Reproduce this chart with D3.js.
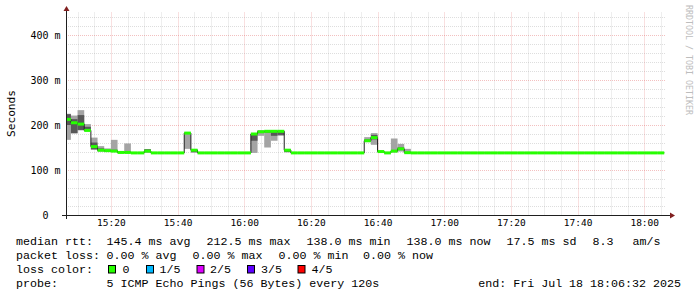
<!DOCTYPE html>
<html>
<head>
<meta charset="utf-8">
<script src="https://cdn.jsdelivr.net/npm/d3@7/dist/d3.min.js"></script>
<style>
  html, body { margin: 0; padding: 0; background: #ffffff; }
  svg { display: block; }
  text { white-space: pre; }
</style>
</head>
<body>
<svg id="chart" width="697" height="297"></svg>
<script>
// ---- Time frame (RRD step = 120 s) ----
const startTime = new Date(2025, 6, 18, 15, 6, 32);
const endTime   = new Date(2025, 6, 18, 18, 6, 32);
const firstStepEnd = new Date(2025, 6, 18, 15, 8, 0);
const stepSeconds = 120;

// ---- Sorted ping RTTs per step (ms): p1 = fastest ... p5 = slowest ----
const ping1 = [
  167, 181, 188, 186, 145, 141, 140, 140, 138, 138,
  138, 138, 138, 138, 138, 138, 138, 138, 147, 138,
  138, 138, 138, 138, 138, 138, 138, 138, 138, 176,
  150, 165, 176, 139, 138, 138, 138, 138, 138, 138,
  138, 138, 138, 138, 138, 162, 156, 139, 138, 139,
  141, 138, 138, 138, 138, 138, 138, 138, 138, 138,
  138, 138, 138, 138, 138, 138, 138, 138, 138, 138,
  138, 138, 138, 138, 138, 138, 138, 138, 138, 138,
  138, 138, 138, 138, 138, 138, 138, 138, 138, 138
];
const ping2 = [
  200, 182, 189, 187, 146, 142, 141, 141, 138, 138,
  138, 138, 140, 138, 138, 138, 138, 138, 180, 140,
  138, 138, 138, 138, 138, 138, 138, 138, 165, 183,
  183, 176, 178, 140, 138, 138, 138, 138, 138, 138,
  138, 138, 138, 138, 138, 163, 168, 140, 138, 141,
  145, 138, 138, 138, 138, 138, 138, 138, 138, 138,
  138, 138, 138, 138, 138, 138, 138, 138, 138, 138,
  138, 138, 138, 138, 138, 138, 138, 138, 138, 138,
  138, 138, 138, 138, 138, 138, 138, 138, 138, 138
];
const median = [
  212.5, 205, 202, 188, 152, 144, 143, 142, 139, 139,
  138, 138, 142, 138, 138, 138, 138, 138, 182, 144,
  138, 138, 138, 138, 138, 138, 138, 138, 180, 185,
  186, 186, 186, 144, 138, 138, 138, 138, 138, 138,
  138, 138, 138, 138, 138, 165, 172, 141, 138, 142,
  147, 138.5, 138, 138, 138, 138, 138, 138, 138, 138,
  138, 138, 138, 138, 138, 138, 138, 138, 138, 138,
  138, 138, 138, 138, 138, 138, 138, 138, 138, 138,
  138, 138, 138, 138, 138, 138, 138, 138, 138, 138
];
const ping4 = [
  224, 213, 222, 196, 161, 148, 144, 145, 139, 140,
  138, 138, 146, 138, 138, 138, 138, 138, 182, 145,
  138, 138, 138, 138, 138, 138, 138, 138, 181, 187,
  187, 187, 187, 145, 138, 138, 138, 138, 138, 138,
  138, 138, 138, 138, 138, 168, 178, 142, 138, 144,
  150, 139, 138, 138, 138, 138, 138, 138, 138, 138,
  138, 138, 138, 138, 138, 138, 138, 138, 138, 138,
  138, 138, 138, 138, 138, 138, 138, 138, 138, 138,
  138, 138, 138, 138, 138, 138, 138, 138, 138, 138
];
const ping5 = [
  225, 221, 233, 202, 172, 153, 148, 167, 140, 159,
  138, 138, 146.5, 138, 138, 138, 138, 138, 183, 146,
  138, 138, 138, 138, 138, 138, 138, 138, 182, 188,
  187, 188, 188, 145, 138, 138, 138, 138, 138, 138,
  138, 138, 138, 138, 138, 173, 182, 142, 138, 170,
  158, 147, 138, 138, 138, 138, 138, 138, 138, 138,
  138, 138, 138, 138, 138, 138, 138, 138, 138, 138,
  138, 138, 138, 138, 138, 138, 138, 138, 138, 138,
  138, 138, 138, 138, 138, 138, 138, 138, 138, 138
];

// ---- Axis labels ----
const yTicks = [0, 100, 200, 300, 400];
const yTickLabels = ["0", "100 m", "200 m", "300 m", "400 m"];
const xTickLabels = ["15:20", "15:40", "16:00", "16:20", "16:40", "17:00", "17:20", "17:40", "18:00"];

// ---- Legend ----
const lossColors = ["#26ff00", "#00b8ff", "#dd00ff", "#5e00ff", "#ff0000"];
const lossLabels = ["0", "1/5", "2/5", "3/5", "4/5"];
const rttItems  = ["median rtt:", "145.4 ms avg", "212.5 ms max", "138.0 ms min", "138.0 ms now", "17.5 ms sd", "8.3", "am/s"];
const lossItems = ["packet loss:", "0.00 % avg", "0.00 % max", "0.00 % min", "0.00 % now"];
const colorTitle = "loss color:";
const probeItems = ["probe:", "5 ICMP Echo Pings (56 Bytes) every 120s"];
const endLabel = "end: Fri Jul 18 18:06:32 2025";

// ---- Layout ----
const W = 697, H = 297;
const plot = { left: 66, right: 666, top: 12.5, bottom: 215 };
const smokeColors = ["#a4a4a4", "#585858"];
const axisFont = "'DejaVu Sans Mono', monospace";
const legendFont = "'Liberation Mono', monospace";
const legendSize = "11.67px";

const svg = d3.select("#chart");
svg.append("rect").attr("width", W).attr("height", H).attr("fill", "#ffffff");

const x = d3.scaleTime().domain([startTime, endTime]).range([plot.left, plot.right]);
const y = d3.scaleLinear().domain([0, 450]).range([plot.bottom, plot.top]);

// step records: each value covers (end - step, end]
const steps = median.map((m, i) => {
  const end = new Date(firstStepEnd.getTime() + i * stepSeconds * 1000);
  const begin = new Date(end.getTime() - stepSeconds * 1000);
  return {
    x0: Math.max(x(begin), plot.left),
    x1: Math.min(x(end), plot.right),
    p: [ping1[i], ping2[i], m, ping4[i], ping5[i]],
    med: m
  };
});

// ---- Grid ----
const grid = svg.append("g");
const minorX = d3.timeMinute.every(5).range(startTime, endTime);
minorX.forEach(t => {
  const major = t.getMinutes() % 20 === 0;
  const xx = Math.round(x(t)) + 0.5;
  grid.append("line")
    .attr("x1", xx).attr("x2", xx).attr("y1", plot.top).attr("y2", plot.bottom)
    .attr("stroke", major ? "rgba(222,79,79,0.6)" : "rgba(143,143,143,0.75)")
    .attr("stroke-width", major ? 0.6 : 0.4)
    .attr("stroke-dasharray", "1,1");
});
d3.range(20, 450, 20).forEach(v => {
  const major = v % 100 === 0;
  const yy = Math.round(y(v)) + 0.5;
  grid.append("line")
    .attr("x1", plot.left).attr("x2", plot.right).attr("y1", yy).attr("y2", yy)
    .attr("stroke", major ? "rgba(222,79,79,0.6)" : "rgba(143,143,143,0.75)")
    .attr("stroke-width", major ? 0.6 : 0.4)
    .attr("stroke-dasharray", "1,1");
});

// ---- Smoke: outer band p1..p5, inner band p2..p4 ----
const smoke = svg.append("g");
[[0, 4], [1, 3]].forEach(([lo, hi], band) => {
  smoke.selectAll(null).data(steps).join("rect")
    .attr("x", d => d.x0)
    .attr("width", d => d.x1 - d.x0)
    .attr("y", d => y(d.p[hi]))
    .attr("height", d => y(d.p[lo]) - y(d.p[hi]))
    .attr("fill", smokeColors[band]);
});

// ---- Median step line ----
const linePts = [];
steps.forEach(d => { linePts.push([d.x0, y(d.med)]); linePts.push([d.x1, y(d.med)]); });
svg.append("path")
  .attr("d", d3.line()(linePts))
  .attr("fill", "none")
  .attr("stroke", "#202020")
  .attr("stroke-width", 1);

// ---- Median band coloured by loss (all 0 loss here) ----
svg.append("g").selectAll("rect").data(steps).join("rect")
  .attr("x", d => d.x0)
  .attr("width", d => d.x1 - d.x0)
  .attr("y", d => y(d.med) - 1.5)
  .attr("height", 3)
  .attr("fill", lossColors[0]);

// ---- Axes ----
const axisColor = "#1f1f1f", arrowColor = "#801f1f";
svg.append("line").attr("x1", 62).attr("x2", 670).attr("y1", 215.5).attr("y2", 215.5)
  .attr("stroke", axisColor).attr("stroke-width", 1);
svg.append("line").attr("x1", 66.5).attr("x2", 66.5).attr("y1", 219).attr("y2", 10)
  .attr("stroke", axisColor).attr("stroke-width", 1);
svg.append("path").attr("d", "M670,212.5 L675,215.5 L670,218.5 Z").attr("fill", arrowColor);
svg.append("path").attr("d", "M63.5,11 L66.5,6 L69.5,11 Z").attr("fill", arrowColor);

// x tick labels
const majorX = d3.timeMinute.every(20).range(startTime, endTime);
svg.append("g").selectAll("text").data(majorX).join("text")
  .attr("x", d => x(d) + 0.5)
  .attr("y", 226)
  .attr("text-anchor", "middle")
  .attr("font-family", axisFont)
  .attr("font-size", "9.5px")
  .attr("fill", "#000")
  .text((d, i) => xTickLabels[i]);

// y tick labels
svg.append("g").selectAll("text").data(yTicks).join("text")
  .attr("x", (d, i) => i === 0 ? 48.5 : 60.5)
  .attr("y", d => y(d) + 3.5)
  .attr("text-anchor", "end")
  .attr("font-family", axisFont)
  .attr("font-size", "10px")
  .attr("fill", "#000")
  .text((d, i) => yTickLabels[i]);

// vertical axis title
svg.append("text")
  .attr("transform", "translate(15,113.5) rotate(-90)")
  .attr("text-anchor", "middle")
  .attr("font-family", axisFont)
  .attr("font-size", "11.2px")
  .attr("fill", "#000")
  .text("Seconds");

// side signature
svg.append("text")
  .attr("transform", "translate(686,5) rotate(90)")
  .attr("text-anchor", "start")
  .attr("font-family", axisFont)
  .attr("font-size", "8.3px")
  .attr("fill", "#bdbdbd")
  .text("RRDTOOL / TOBI OETIKER");

// ---- Legend ----
const legendY = [245, 259, 273, 287];
function legendText(str, xx, yy) {
  svg.append("text")
    .attr("x", xx).attr("y", yy)
    .attr("font-family", legendFont)
    .attr("font-size", legendSize)
    .attr("fill", "#000")
    .text(str);
}
const rttX = [16, 106.5, 206.5, 306.5, 406.5, 506.5, 592.5, 632.5];
rttItems.forEach((s, i) => legendText(s, rttX[i], legendY[0]));
const lossX = [16, 106.5, 192.5, 278.5, 363];
lossItems.forEach((s, i) => legendText(s, lossX[i], legendY[1]));
legendText(colorTitle, 16, legendY[2]);
const boxX = [108.5, 146.5, 197, 247.5, 298];
const labelX = [122.5, 159.5, 210, 261, 311.5];
lossColors.forEach((c, i) => {
  svg.append("rect")
    .attr("x", boxX[i]).attr("y", 265.5).attr("width", 7).attr("height", 7.5)
    .attr("fill", c).attr("stroke", "#000").attr("stroke-width", 1);
  legendText(lossLabels[i], labelX[i], legendY[2]);
});
legendText(probeItems[0], 16, legendY[3]);
legendText(probeItems[1], 106.5, legendY[3]);
legendText(endLabel, 478.2, legendY[3]);
</script>
</body>
</html>
